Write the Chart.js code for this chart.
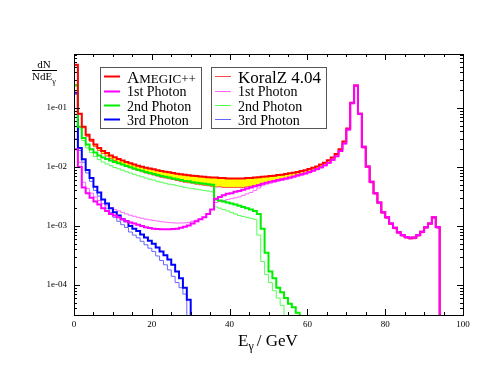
<!DOCTYPE html>
<html>
<head>
<meta charset="utf-8">
<script src="https://cdn.jsdelivr.net/npm/chart.js@4.4.0/dist/chart.umd.min.js"></script>
<style>
    html, body { margin: 0; padding: 0; background: #fff; }
    #wrap { width: 494px; height: 382px; position: relative; }
</style>
</head>
<body>
<div id="wrap"><canvas id="chart"></canvas></div>
<script>
// Photon energy spectra, 1 GeV bins starting at 0 GeV
const BIN_GEV = 1;

const amegicTotal = [
    0.54, 0.08, 0.048, 0.035, 0.029, 0.024, 0.021, 0.0187, 0.0172, 0.0156,
    0.0146, 0.0136, 0.0128, 0.0121, 0.0115, 0.011, 0.0105, 0.0101, 0.0097, 0.0094,
    0.0091, 0.0088, 0.0085, 0.0083, 0.0081, 0.0079, 0.0077, 0.0075, 0.0074, 0.0072,
    0.0071, 0.007, 0.0069, 0.0068, 0.0067, 0.0066, 0.0066, 0.0065, 0.0065, 0.0064,
    0.0064, 0.0064, 0.0064, 0.0064, 0.0065, 0.0065, 0.0066, 0.0067, 0.0068, 0.0069,
    0.007, 0.0071, 0.0073, 0.0074, 0.0076, 0.0078, 0.008, 0.0082, 0.0085, 0.0088,
    0.0092, 0.0097, 0.0102, 0.011, 0.0118, 0.013, 0.0145, 0.0165, 0.02, 0.027,
    0.045, 0.122, 0.24, 0.08, 0.022, 0.0102, 0.0056, 0.0036, 0.0025, 0.0017,
    0.0014, 0.0011, 0.00093, 0.00078, 0.0007, 0.00065, 0.00063, 0.00064, 0.0007, 0.0008,
    0.00095, 0.0011, 0.0014, 0.00096
];
const koralTotal = [
    0.52, 0.078, 0.046, 0.033, 0.027, 0.022, 0.019, 0.0168, 0.0153, 0.0138,
    0.0128, 0.0118, 0.011, 0.0103, 0.0097, 0.0092, 0.0087, 0.0083, 0.0079, 0.0076,
    0.0073, 0.007, 0.0067, 0.0065, 0.0063, 0.0061, 0.0059, 0.0057, 0.0055, 0.0054,
    0.0053, 0.0051, 0.005, 0.0049, 0.0048, 0.0047, 0.0046, 0.0046, 0.0045, 0.0045,
    0.0045, 0.0045, 0.0045, 0.0045, 0.0046, 0.0047, 0.0048, 0.005, 0.0052, 0.0054,
    0.0056, 0.0058, 0.006, 0.0062, 0.0064, 0.0066, 0.0069, 0.0072, 0.0075, 0.0078,
    0.0082, 0.0087, 0.0092, 0.0099, 0.0107, 0.0118, 0.0132, 0.0152, 0.0186, 0.025,
    0.043, 0.12, 0.24, 0.078, 0.021, 0.0098, 0.0054, 0.0035, 0.0024, 0.00165,
    0.00135, 0.00106, 0.0009, 0.00075, 0.00067, 0.00062, 0.0006, 0.00061, 0.00067, 0.00077,
    0.00092, 0.00106, 0.00135, 0.00092
];
const amegic1st = [
    0.02, 0.01, 0.0045, 0.0036, 0.003, 0.0026, 0.0023, 0.002, 0.0018, 0.0016,
    0.0015, 0.0014, 0.0013, 0.0012, 0.00115, 0.0011, 0.00105, 0.001, 0.00095, 0.00092,
    0.0009, 0.00089, 0.00088, 0.00088, 0.00088, 0.00089, 0.0009, 0.00093, 0.00097, 0.00102,
    0.0011, 0.0012, 0.0013, 0.0014, 0.0016, 0.0019, 0.0029, 0.0031, 0.0033, 0.0035,
    0.0036, 0.0038, 0.0039, 0.0041, 0.0043, 0.0045, 0.0047, 0.0049, 0.0052, 0.0054,
    0.0056, 0.0058, 0.006, 0.0062, 0.0064, 0.0066, 0.0069, 0.0072, 0.0075, 0.0078,
    0.0082, 0.0087, 0.0092, 0.0099, 0.0107, 0.0118, 0.0132, 0.0152, 0.0186, 0.025,
    0.043, 0.12, 0.24, 0.08, 0.022, 0.0102, 0.0056, 0.0036, 0.0025, 0.0017,
    0.0014, 0.0011, 0.00093, 0.00078, 0.0007, 0.00065, 0.00063, 0.00064, 0.0007, 0.0008,
    0.00095, 0.0011, 0.0014, 0.00096
];
const koral1st = [
    0.03, 0.012, 0.0055, 0.0043, 0.0036, 0.0031, 0.0027, 0.0024, 0.0022, 0.002,
    0.0019, 0.0018, 0.0017, 0.0016, 0.00152, 0.00146, 0.0014, 0.00135, 0.0013, 0.00127,
    0.00124, 0.00121, 0.00118, 0.00116, 0.00114, 0.00113, 0.00112, 0.00112, 0.00113, 0.00115,
    0.0012, 0.00125, 0.0013, 0.0014, 0.0016, 0.0019, 0.0025, 0.0026, 0.0027, 0.0028,
    0.0029, 0.003, 0.0031, 0.0033, 0.0035, 0.0037, 0.004, 0.0044, 0.0048, 0.0051,
    0.0053, 0.0055, 0.0057, 0.0059, 0.0061, 0.0063, 0.0066, 0.0069, 0.0072, 0.0075,
    0.0079, 0.0084, 0.0089, 0.0096, 0.0104, 0.0115, 0.0129, 0.0149, 0.0183, 0.0246,
    0.042, 0.118, 0.235, 0.078, 0.021, 0.0098, 0.0054, 0.0035, 0.0024, 0.00165,
    0.00135, 0.00106, 0.0009, 0.00075, 0.00067, 0.00062, 0.0006, 0.00061, 0.00067, 0.00077,
    0.00092, 0.00106, 0.00135, 0.00092
];
const amegic2nd = [
    0.245, 0.048, 0.031, 0.024, 0.02, 0.0175, 0.0157, 0.0145, 0.0136, 0.0128,
    0.0121, 0.0115, 0.011, 0.0104, 0.0099, 0.0094, 0.009, 0.0086, 0.0082, 0.0079,
    0.0076, 0.0073, 0.007, 0.0068, 0.0066, 0.0064, 0.0062, 0.006, 0.0058, 0.0057,
    0.0055, 0.0054, 0.0053, 0.0052, 0.0051, 0.005, 0.0028, 0.0027, 0.0026, 0.0025,
    0.0024, 0.0023, 0.0022, 0.0021, 0.002, 0.0019, 0.0018, 0.0016, 0.0009, 0.00035,
    0.00017, 0.00013, 0.00009, 0.000075, 0.00006, 0.000048, 0.000042, 0.000034
];
const koral2nd = [
    0.23, 0.044, 0.028, 0.021, 0.0175, 0.015, 0.0133, 0.0121, 0.0112, 0.0105,
    0.0098, 0.0093, 0.0088, 0.0083, 0.0079, 0.0075, 0.0071, 0.0068, 0.0065, 0.0062,
    0.006, 0.0057, 0.0055, 0.0053, 0.0051, 0.005, 0.0048, 0.0047, 0.0045, 0.0044,
    0.0043, 0.0042, 0.0041, 0.004, 0.0039, 0.0038, 0.0021, 0.002, 0.0019, 0.0018,
    0.0017, 0.0016, 0.0015, 0.00145, 0.0014, 0.00135, 0.0013, 0.0007, 0.00025, 0.00015,
    0.00011, 0.00008, 0.00006, 0.000045
];
const amegic3rd = [
    0.18, 0.021, 0.0135, 0.0089, 0.0065, 0.0046, 0.0037, 0.0028, 0.0024, 0.002,
    0.0017, 0.0015, 0.0013, 0.0012, 0.001, 0.0009, 0.00082, 0.00072, 0.00064, 0.00056,
    0.0005, 0.00043, 0.00037, 0.00032, 0.00027, 0.00022, 0.00017, 0.00013, 0.00009, 0.000056
];
const koral3rd = [
    0.17, 0.019, 0.012, 0.0079, 0.0057, 0.004, 0.0032, 0.0024, 0.002, 0.0017,
    0.0014, 0.0012, 0.00105, 0.00094, 0.00079, 0.0007, 0.00063, 0.00055, 0.00048, 0.00042,
    0.00037, 0.00031, 0.00026, 0.00022, 0.00018, 0.00014, 0.00011, 0.00009, 0.00007
];

const xTicks = [0, 20, 40, 60, 80, 100];
const yTicks = [1e-4, 1e-3, 1e-2, 1e-1];

// histogram -> stepped points, last point drops below the axis
function histo(values) {
    const pts = values.map((v, i) => ({ x: i * BIN_GEV, y: v }));
    pts.push({ x: values.length * BIN_GEV, y: 1e-9 });
    return pts;
}

function serie(label, values, color, width, order, extra) {
    return Object.assign({
        label: label,
        data: histo(values),
        borderColor: color,
        borderWidth: width,
        stepped: true,
        pointRadius: 0,
        fill: false,
        order: order
    }, extra || {});
}

const SERIF = "'Liberation Serif', 'DejaVu Serif', serif";

// ejes con marcas hacia dentro, leyendas y títulos
const framePlugin = {
    id: 'frame',
    afterDraw(chart) {
        const ctx = chart.ctx;
        const a = chart.chartArea;
        const xs = chart.scales.x, ys = chart.scales.y;
        ctx.save();
        ctx.strokeStyle = '#000';
        ctx.lineWidth = 1;
        ctx.strokeRect(a.left + 0.5, a.top + 0.5, a.right - a.left, a.bottom - a.top);

        ctx.beginPath();
        for (let e = 0; e <= 100; e += 5) {
            const px = Math.round(xs.getPixelForValue(e)) + 0.5;
            const len = (e % 20 === 0) ? 6 : 3;
            ctx.moveTo(px, a.bottom); ctx.lineTo(px, a.bottom - len);
            ctx.moveTo(px, a.top); ctx.lineTo(px, a.top + len);
        }
        for (let d = -5; d <= 0; d++) {
            for (let m = 1; m <= 9; m++) {
                const v = m * Math.pow(10, d);
                if (v < ys.min || v > ys.max) continue;
                const py = Math.round(ys.getPixelForValue(v)) + 0.5;
                const len = m === 1 ? 6 : 3;
                ctx.moveTo(a.left, py); ctx.lineTo(a.left + len, py);
                ctx.moveTo(a.right, py); ctx.lineTo(a.right - len, py);
            }
        }
        ctx.stroke();

        // titulo eje x: E_gamma / GeV
        ctx.fillStyle = '#000';
        ctx.textBaseline = 'alphabetic';
        ctx.textAlign = 'left';
        let x = 238;
        ctx.font = '17px ' + SERIF;
        ctx.fillText('E', x, 346);
        x += ctx.measureText('E').width;
        ctx.font = '12px ' + SERIF;
        ctx.fillText('γ', x, 350);
        x += ctx.measureText('γ').width + 3;
        ctx.font = '17px ' + SERIF;
        ctx.fillText('/ GeV', x, 346);

        // titulo eje y: dN / NdE_gamma
        ctx.font = '11px ' + SERIF;
        ctx.textAlign = 'center';
        ctx.fillText('dN', 44, 68);
        ctx.textAlign = 'left';
        ctx.fillText('NdE', 32, 80);
        const wN = ctx.measureText('NdE').width;
        ctx.font = '8px ' + SERIF;
        ctx.fillText('γ', 32 + wN, 84);
        ctx.beginPath();
        ctx.moveTo(32, 70.5); ctx.lineTo(57, 70.5);
        ctx.stroke();

        // leyendas
        const rows = [83, 96, 110.5, 124.5];
        const lineY = [76.5, 91.5, 105.5, 119.5];
        ctx.strokeStyle = '#555';
        ctx.strokeRect(100.5, 67.5, 101, 61);
        ctx.strokeRect(211.5, 67.5, 115, 61);

        const left = [
            ['AMEGIC++', colors.total], ['1st Photon', colors.first],
            ['2nd Photon', colors.second], ['3rd Photon', colors.third]
        ];
        const right = [
            ['KoralZ 4.04', colorsLight.total], ['1st Photon', colorsLight.first],
            ['2nd Photon', colorsLight.second], ['3rd Photon', colorsLight.third]
        ];
        left.forEach((r, i) => {
            ctx.strokeStyle = r[1]; ctx.lineWidth = 2;
            ctx.beginPath(); ctx.moveTo(104, lineY[i]); ctx.lineTo(120, lineY[i]); ctx.stroke();
            ctx.fillStyle = '#000';
            if (i === 0) {
                ctx.font = '17px ' + SERIF;
                ctx.fillText('A', 127, rows[i]);
                const wA = ctx.measureText('A').width;
                ctx.font = '13px ' + SERIF;
                ctx.fillText('MEGIC++', 127 + wA, rows[i]);
            } else {
                ctx.font = '14px ' + SERIF;
                ctx.fillText(r[0], 127, rows[i]);
            }
        });
        right.forEach((r, i) => {
            ctx.strokeStyle = r[1]; ctx.lineWidth = 1;
            ctx.beginPath(); ctx.moveTo(215, lineY[i]); ctx.lineTo(231, lineY[i]); ctx.stroke();
            ctx.fillStyle = '#000';
            ctx.font = (i === 0 ? '17px ' : '14px ') + SERIF;
            ctx.fillText(r[0], 238, rows[i]);
        });
        ctx.restore();
    }
};

const colors = { total: '#ff0000', first: '#ff00ff', second: '#00ee00', third: '#0000ff' };
const colorsLight = { total: '#ff4a4a', first: '#ff66ff', second: '#55ff55', third: '#6666ff' };

const ctx = document.getElementById('chart').getContext('2d');
new Chart(ctx, {
    type: 'line',
    data: {
        datasets: [
            serie('KoralZ 4.04', koralTotal, colorsLight.total, 1, 8),
            serie('AMEGIC++', amegicTotal, colors.total, 2, 2, { fill: 0, backgroundColor: '#ffff00' }),
            serie('KoralZ 1st Photon', koral1st, colorsLight.first, 1, 6),
            serie('KoralZ 2nd Photon', koral2nd, colorsLight.second, 1, 7),
            serie('KoralZ 3rd Photon', koral3rd, colorsLight.third, 1, 9),
            serie('1st Photon', amegic1st, colors.first, 2, 1),
            serie('2nd Photon', amegic2nd, colors.second, 2, 3),
            serie('3rd Photon', amegic3rd, colors.third, 2, 4)
        ]
    },
    options: {
        responsive: true,
        maintainAspectRatio: false,
        animation: false,
        layout: { padding: { top: 54, right: 31, left: 0, bottom: 0 } },
        plugins: {
            legend: { display: false },
            tooltip: { enabled: false },
            filler: { drawTime: 'beforeDatasetsDraw' }
        },
        scales: {
            x: {
                type: 'linear', min: 0, max: 100,
                grid: { display: false, drawTicks: false, tickLength: 0 },
                border: { display: false },
                afterBuildTicks: s => { s.ticks = xTicks.map(v => ({ value: v })); },
                ticks: { font: { family: SERIF, size: 9 }, color: '#000', padding: 4, maxRotation: 0 },
                afterFit: s => { s.height = 67; }
            },
            y: {
                type: 'logarithmic', min: 3.1e-5, max: 0.82,
                grid: { display: false, drawTicks: false, tickLength: 0 },
                border: { display: false },
                afterBuildTicks: s => { s.ticks = yTicks.map(v => ({ value: v })); },
                ticks: {
                    font: { family: SERIF, size: 9 }, color: '#000', padding: 7,
                    callback: v => '1e-' + String(-Math.round(Math.log10(v))).padStart(2, '0')
                },
                afterFit: s => { s.width = 74; }
            }
        }
    },
    plugins: [framePlugin]
});
</script>
</body>
</html>
